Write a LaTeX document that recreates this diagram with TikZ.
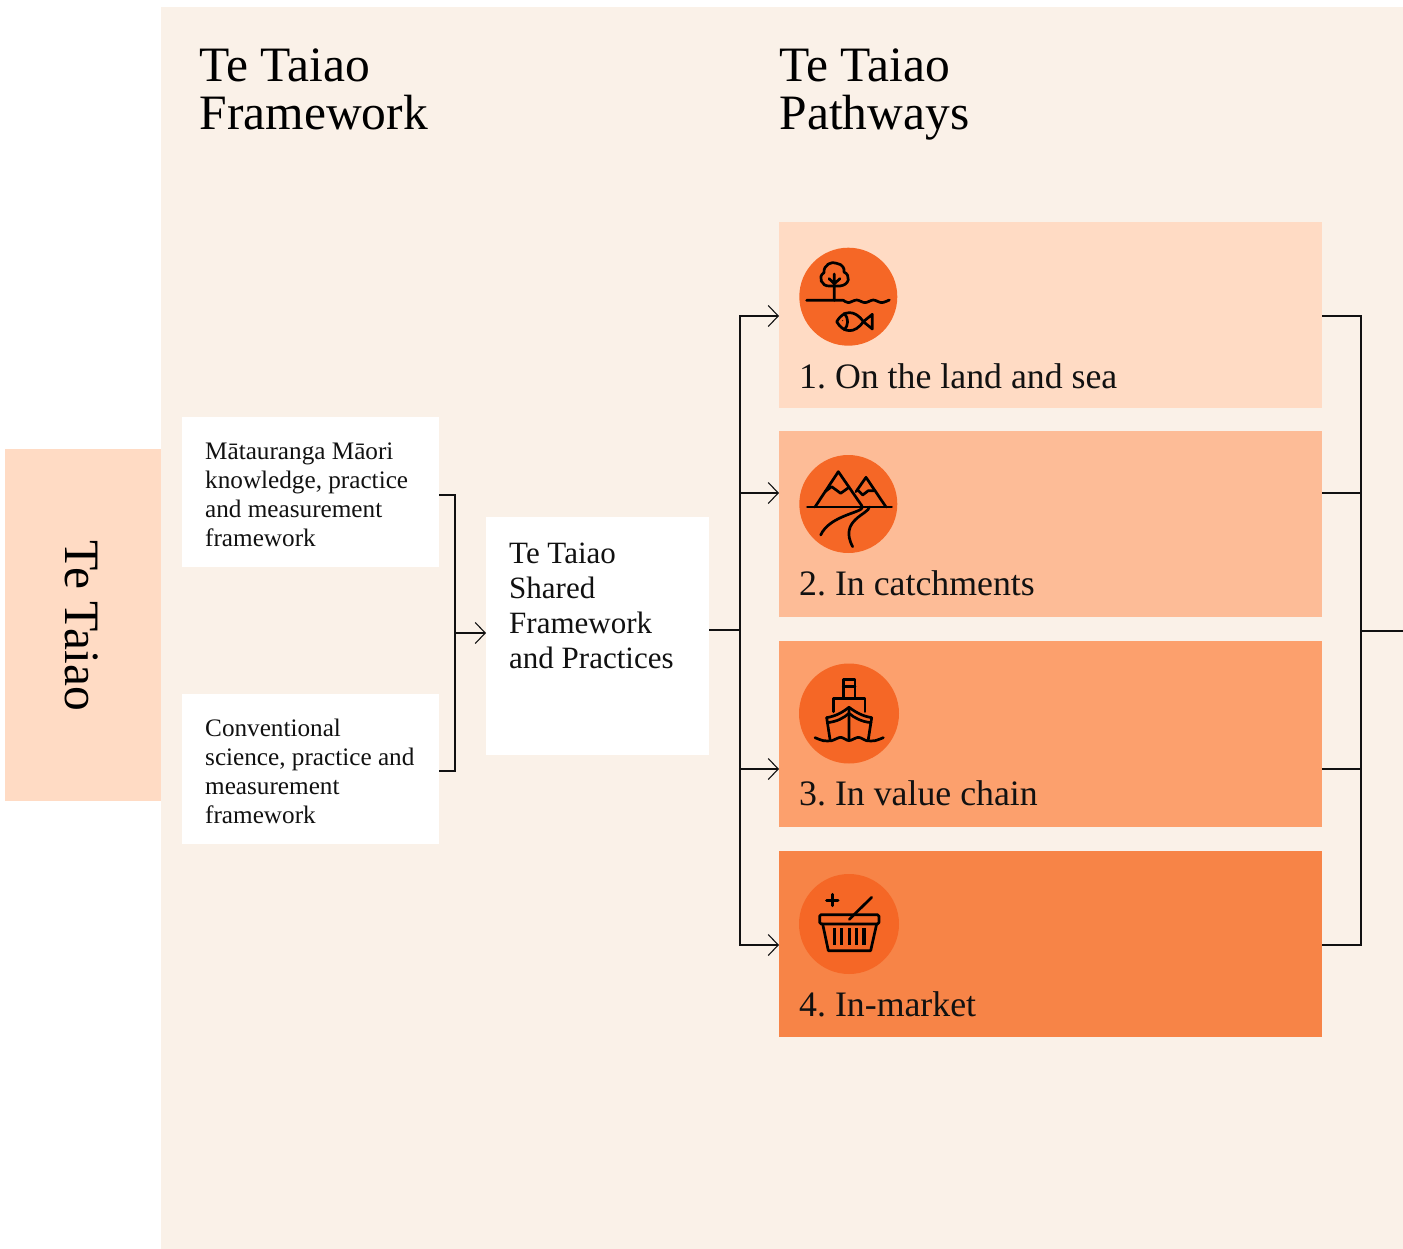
\documentclass[tikz,border=0pt]{standalone}
\usepackage{fontspec}
\setmainfont{Liberation Serif}
\usetikzlibrary{arrows.meta}
\definecolor{panel}{HTML}{FAF1E8}
\definecolor{tabc}{HTML}{FFDBC4}
\definecolor{pa}{HTML}{FFDBC4}
\definecolor{pb}{HTML}{FDBC97}
\definecolor{pc}{HTML}{FCA06D}
\definecolor{pd}{HTML}{F78447}
\definecolor{disc}{HTML}{F56726}
\definecolor{ink}{HTML}{111111}
\tikzset{
  area/.style={anchor=north west,inner sep=0pt,outer sep=0pt,minimum width=#1},
  title/.style={anchor=north west,inner sep=0pt,align=left,font=\fontsize{49.5}{47.5}\selectfont,text=black},
  smalltxt/.style={anchor=north west,inner sep=0pt,align=left,font=\fontsize{25.2}{29}\selectfont,text=ink},
  midtxt/.style={anchor=north west,inner sep=0pt,align=left,font=\fontsize{31}{35}\selectfont,text=ink},
  pathtxt/.style={anchor=base west,inner sep=0pt,font=\fontsize{35.8}{40}\selectfont\frenchspacing,text=ink},
  link/.style={draw=ink,line width=1.1pt},
  linka/.style={link,-{Straight Barb[length=10pt,width=21pt,line width=1.1pt]}},
  icon/.style={draw=black,line width=2.7pt,line join=round,line cap=round},
  iconbar/.style={draw=black,line width=3.4pt}
}
\begin{document}
\begin{tikzpicture}[x=1pt,y=-1pt]
\useasboundingbox (0,0) rectangle (1403,1249);
\fill[white] (0,0) rectangle (1403,1249);
\node[area=1242pt,minimum height=1242pt,fill=panel] (bg) at (161,7) {};
\node[area=156pt,minimum height=352pt,fill=tabc] (tab) at (5,449) {};
\node[rotate=-90,inner sep=0pt,font=\fontsize{49.5}{48}\selectfont] (tabt) at (82,626) {Te Taiao};
\node[title] (h1) at (199.5,49) {Te Taiao\\Framework};
\node[title] (h2) at (779.5,49) {Te Taiao\\Pathways};
\node[area=257pt,minimum height=150pt,fill=white] (mat) at (182,417) {};
\node[area=257pt,minimum height=150pt,fill=white] (conv) at (182,694) {};
\node[area=223pt,minimum height=238pt,fill=white] (shared) at (486,517) {};
\node[smalltxt] (matt) at (205,442.5) {Mātauranga Māori\\knowledge, practice\\and measurement\\framework};
\node[smalltxt] (convt) at (205,718.5) {Conventional\\science, practice and\\measurement\\framework};
\node[midtxt] (sharedt) at (509,543) {Te Taiao\\Shared\\Framework\\and Practices};
\node[area=543pt,minimum height=186pt,fill=pa] (p1) at (779,222) {};
\node[area=543pt,minimum height=186pt,fill=pb] (p2) at (779,431) {};
\node[area=543pt,minimum height=186pt,fill=pc] (p3) at (779,641) {};
\node[area=543pt,minimum height=186pt,fill=pd] (p4) at (779,851) {};
\node[pathtxt] (p1t) at (799,388) {1. On the land and sea};
\node[pathtxt] (p2t) at (799,595) {2. In catchments};
\node[pathtxt] (p3t) at (799,805) {3. In value chain};
\node[pathtxt] (p4t) at (799,1016) {4. In-market};
% connectors
\coordinate (lbus) at (455,633);
\coordinate (mbus) at (740,630);
\coordinate (rbus) at (1361,631);
\coordinate (exit) at (1403,631);
\draw[link] ([yshift=-3pt]mat.east) -| (lbus);
\draw[link] ([yshift=-2pt]conv.east) -| (lbus);
\draw[linka] (lbus) -- (lbus -| shared.west);
\draw[link] (shared.east |- mbus) -- (mbus);
\draw[linka] (mbus) |- (p1.west |- 0,316);
\draw[linka] (mbus) |- (p2.west |- 0,493);
\draw[linka] (mbus) |- (p3.west |- 0,769);
\draw[linka] (mbus) |- (p4.west |- 0,945);
\draw[link] (p1.east |- 0,316) -| (rbus);
\draw[link] (p2.east |- 0,493) -| (rbus);
\draw[link] (p3.east |- 0,769) -| (rbus);
\draw[link] (p4.east |- 0,945) -| (rbus);
\draw[link] (rbus) -- (exit);
% icon 1
\fill[disc] (848.3,296.7) circle (49);
\begin{scope}[shift={(780,230)},x=0.3333pt,y=-0.3333pt]
\draw[icon] (80,211) -- (190,211) plot[smooth] coordinates {(190,211) (205,218) (230,210) (255,218) (280,210) (305,218) (328,210)};
\draw[icon] (163,211) -- (163,132) (147,146) -- (163,161) -- (180,146);
\draw[icon] (148,168) .. controls (125,170) and (112,140) .. (132,128) .. controls (130,105) and (155,92) .. (170,100) .. controls (188,102) and (195,118) .. (192,126) .. controls (212,135) and (210,165) .. (180,168) -- cycle;
\draw[icon] (250,275) .. controls (225,238) and (190,240) .. (170,275) .. controls (190,310) and (225,312) .. (250,275) -- (277,297) -- (277,253) -- cycle;
\draw[icon] (193,250) .. controls (206,265) and (206,285) .. (193,300);
\fill[black] (188,272) circle (1.6);
\end{scope}
% icon 2
\fill[disc] (848.3,504) circle (49);
\begin{scope}[shift={(780,440)},x=0.3333pt,y=-0.3333pt]
\draw[icon] (82,201) -- (335,201);
\draw[icon] (105,201) -- (175,95) -- (246,198);
\draw[icon] (135,155) -- (155,140) -- (182,160) -- (207,142);
\draw[icon] (228,155) -- (258,112) -- (318,201);
\draw[icon] (233,150) -- (248,165) -- (265,152) -- (283,152);
\draw[icon] (247,201) .. controls (250,218) and (150,225) .. (122,285);
\draw[icon] (268,201) .. controls (268,222) and (175,240) .. (218,320);
\end{scope}
% icon 3
\fill[disc] (849,713.5) circle (50);
\begin{scope}[shift={(780,650)},x=0.3333pt,y=-0.3333pt]
\draw[icon] (190,145) -- (190,88) -- (225,88) -- (225,145) (190,110) -- (225,110);
\draw[icon] (160,185) -- (160,145) -- (255,145) -- (255,185);
\draw[icon] (140,203) .. controls (170,198) and (190,185) .. (207,172) .. controls (225,185) and (245,198) .. (275,203);
\draw[icon] (142,218) .. controls (170,215) and (190,205) .. (207,190) .. controls (225,205) and (245,215) .. (273,218);
\draw[icon] (140,203) -- (150,268) (275,203) -- (265,268) (207,172) -- (207,272);
\draw[icon] plot[smooth] coordinates {(105,263) (130,272) (155,272) (182,262) (207,272) (235,262) (260,272) (285,272) (310,263)};
\end{scope}
% icon 4
\fill[disc] (849,924) circle (50);
\begin{scope}[shift={(780,860)},x=0.3333pt,y=-0.3333pt]
\draw[icon,rounded corners=1.5pt] (119,164) rectangle (297,192);
\draw[icon] (128,192) -- (145,272) -- (272,272) -- (290,192);
\draw[iconbar] (163,205) -- (163,255) (185,205) -- (185,255) (208,205) -- (208,255) (230,205) -- (230,255) (252,205) -- (252,255);
\draw[icon] (208,178) -- (275,112);
\draw[icon,line width=3pt] (140,120) -- (174,120) (157,103) -- (157,137);
\end{scope}
\end{tikzpicture}
\end{document}
